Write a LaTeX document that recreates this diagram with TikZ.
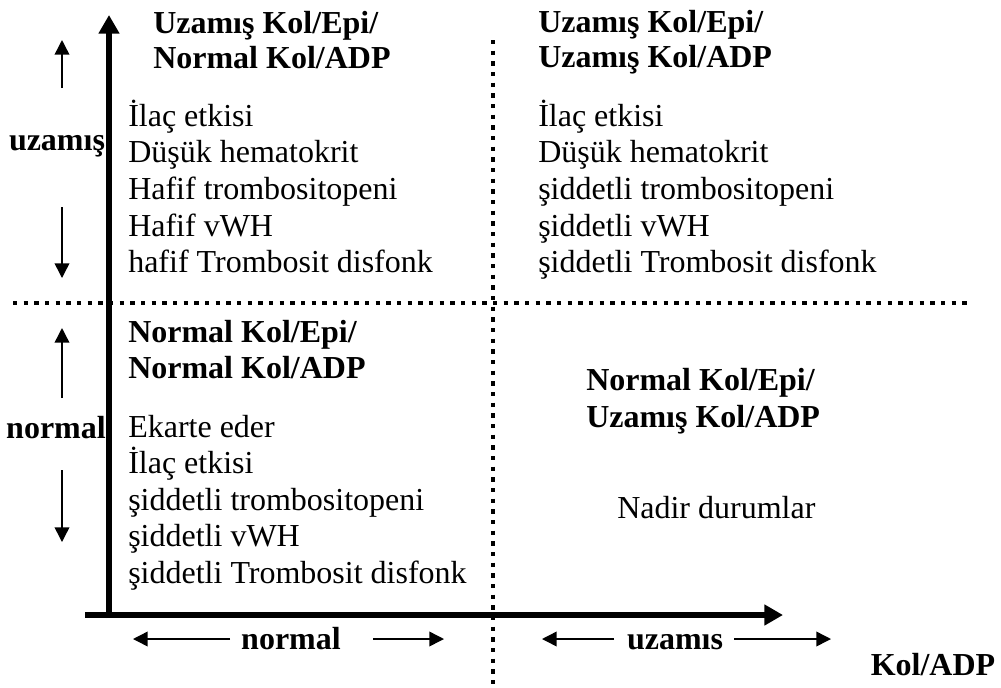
\documentclass[tikz,border=0pt]{standalone}
\usepackage{fontspec}
\setmainfont{Liberation Serif}
\usetikzlibrary{arrows.meta}
\begin{document}
\begin{tikzpicture}[x=0.75pt,y=-0.75pt,
  txt/.style={inner sep=0pt,anchor=base west,font=\fontsize{24}{27}\selectfont},
  head/.style={inner sep=0pt,anchor=base west,font=\fontsize{24}{27}\selectfont\bfseries},
  lbl/.style={inner sep=0pt,anchor=base,font=\fontsize{24}{27}\selectfont\bfseries},
  axis/.style={line width=4.9pt,-{Triangle[length=14pt,width=15pt]}},
  small/.style={line width=1.1pt,-{Triangle[length=11pt,width=11pt]}},
  dots/.style={line width=3.2pt,dash pattern=on 3.2pt off 4.8pt}]
\useasboundingbox (0,0) rectangle (1001,687);
% dotted separators
\coordinate (vd1) at (493,40);
\coordinate (vd2) at (493,687);
\coordinate (hd1) at (13,303);
\coordinate (hd2) at (968,303);
\draw[dots] (vd1) -- (vd2);
\draw[dots] (hd1) -- (hd2);
% axes
\coordinate (vo) at (109,618);
\coordinate (vt) at (109,15);
\coordinate (ho) at (85,615);
\coordinate (ht) at (783,615);
\draw[axis] (vo) -- (vt);
\draw[axis] (ho) -- (ht);
% top-left quadrant
\node[head] (h1a) at (153,33) {Uzamış Kol/Epi/};
\node[head] (h1b) at (153,68) {Normal Kol/ADP};
\foreach \t [count=\i] in {İlaç etkisi,Düşük hematokrit,Hafif trombositopeni,Hafif vWH,hafif Trombosit disfonk}
  \node[txt] (l1-\i) at (128,{126+(\i-1)*36.7}) {\t};
% top-right quadrant
\node[head] (h2a) at (538,32) {Uzamış Kol/Epi/};
\node[head] (h2b) at (538,67) {Uzamış Kol/ADP};
\foreach \t [count=\i] in {İlaç etkisi,Düşük hematokrit,şiddetli trombositopeni,şiddetli vWH,şiddetli Trombosit disfonk}
  \node[txt] (l2-\i) at (538,{126+(\i-1)*36.7}) {\t};
% bottom-left quadrant
\node[head] (h3a) at (128,342) {Normal Kol/Epi/};
\node[head] (h3b) at (128,378) {Normal Kol/ADP};
\foreach \t [count=\i] in {Ekarte eder,İlaç etkisi,şiddetli trombositopeni,şiddetli vWH,şiddetli Trombosit disfonk}
  \node[txt] (l3-\i) at (128,{437+(\i-1)*36.5}) {\t};
% bottom-right quadrant
\node[head] (h4a) at (586,390) {Normal Kol/Epi/};
\node[head] (h4b) at (586,427) {Uzamış Kol/ADP};
\node[txt] (l4) at (617,518) {Nadir durumlar};
% axis labels
\node[lbl] (yu) at (57,150) {uzamış};
\node[lbl] (yn) at (56,438) {normal};
\node[lbl] (xn) at (291,649) {normal};
\node[lbl] (xu) at (675,649) {uzamıs};
\node[lbl] (xl) at (933,675) {Kol/ADP};
% small arrows
\coordinate (a1s) at (62,88);  \coordinate (a1e) at (62,40);
\coordinate (a2s) at (62,207); \coordinate (a2e) at (62,278);
\coordinate (a3s) at (62,398); \coordinate (a3e) at (62,328);
\coordinate (a4s) at (62,470); \coordinate (a4e) at (62,542);
\coordinate (b1s) at (230,639); \coordinate (b1e) at (133,639);
\coordinate (b2s) at (373,639); \coordinate (b2e) at (444,639);
\coordinate (b3s) at (614,639); \coordinate (b3e) at (542,639);
\coordinate (b4s) at (734,639); \coordinate (b4e) at (831,639);
\foreach \p in {a1,a2,a3,a4,b1,b2,b3,b4}
  \draw[small] (\p s) -- (\p e);
\end{tikzpicture}
\end{document}
